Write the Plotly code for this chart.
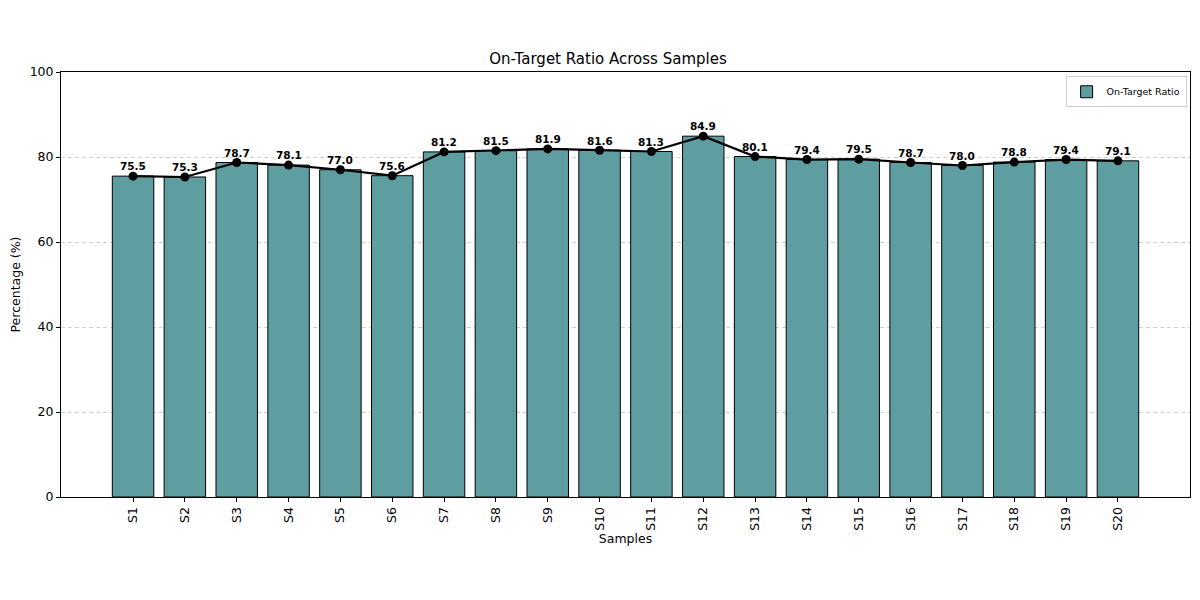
import plotly.graph_objects as go

samples = [f"S{i}" for i in range(1, 21)]
values = [75.5, 75.3, 78.7, 78.1, 77.0, 75.6, 81.2, 81.5, 81.9, 81.6,
          81.3, 84.9, 80.1, 79.4, 79.5, 78.7, 78.0, 78.8, 79.4, 79.1]

x_idx = list(range(len(samples)))

fig = go.Figure()
fig.add_trace(go.Bar(
    x=x_idx, y=values, width=0.8, name="On-Target Ratio",
    marker=dict(color="#5F9EA0", line=dict(color="black", width=1)),
    showlegend=True,
))
fig.add_trace(go.Scatter(
    x=x_idx, y=values, mode="lines+markers",
    line=dict(color="black", width=2.2),
    marker=dict(color="black", size=9),
    showlegend=False,
))
for xi, v in zip(x_idx, values):
    fig.add_annotation(x=xi, y=v + 0.4, text=f"<b>{v:.1f}</b>", showarrow=False,
                       yanchor="bottom", xanchor="center",
                       font=dict(size=10.5, color="black", family="DejaVu Sans"))

fig.update_layout(
    width=1200, height=600,
    paper_bgcolor="white", plot_bgcolor="white",
    margin=dict(l=53, r=18, t=64, b=111, autoexpand=False),
    title=dict(text="On-Target Ratio Across Samples", x=0.5, xanchor="center",
               y=0.915, yanchor="middle", font=dict(size=15, family="DejaVu Sans", color="black")),
    font=dict(family="DejaVu Sans", color="black", size=12),
    bargap=0.2,
    legend=dict(x=0.997, y=0.99, xanchor="right", yanchor="top",
                bgcolor="white", bordercolor="#d0d0d0", borderwidth=1,
                font=dict(size=9.5), itemwidth=30, tracegroupgap=0),
)
fig.update_xaxes(
    range=[-1.39, 20.39], tickmode="array", tickvals=x_idx, ticktext=samples,
    tickangle=-90, ticks="outside", ticklen=4, tickcolor="black",
    showline=True, linecolor="black", linewidth=1, mirror=True, showgrid=False,
    title=dict(text="Samples", font=dict(size=12.5), standoff=2),
    tickfont=dict(size=12.5), automargin=False,
)
fig.update_yaxes(
    range=[0, 100], tickvals=[0, 20, 40, 60, 80, 100],
    ticks="outside", ticklen=4, tickcolor="black",
    showline=True, linecolor="black", linewidth=1, mirror=True,
    showgrid=True, gridcolor="#d0d0d0", griddash="4px,3px", gridwidth=1,
    zeroline=False,
    title=dict(text="Percentage (%)", font=dict(size=12.5), standoff=8),
    tickfont=dict(size=12.5), automargin=False,
)

fig.write_html("out.html")
